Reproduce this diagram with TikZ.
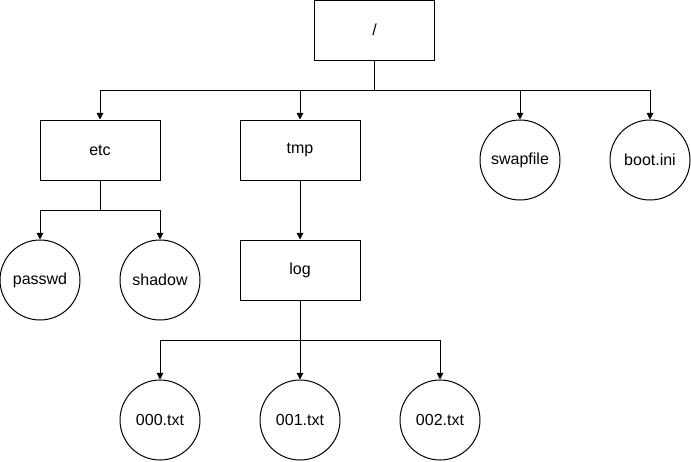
\documentclass[tikz,border=0pt]{standalone}
\usepackage{fontspec}
\setmainfont{Liberation Sans}
\usetikzlibrary{arrows.meta}

\begin{document}
\begin{tikzpicture}[x=0.75pt,y=-0.75pt,line width=0.75pt,font=\fontsize{12}{14}\selectfont]
\tikzset{dirbox/.style=
            {draw,minimum width=90pt,minimum height=45pt,inner sep=0pt},
         filecircle/.style=
            {draw,circle,minimum size=60pt,inner sep=0pt},
         link/.style=
            {draw,-{Triangle[length=5pt,width=5pt]}}}
\useasboundingbox (0,0) rectangle (691,461);
% directories
\node[dirbox] (root) at (374.5,30) {/};
\node[dirbox] (etc) at (100,150) {etc};
\node[dirbox] (tmp) at (300,150) {tmp};
\node[dirbox] (log) at (300,270) {log};
% files
\node[filecircle] (swapfile) at (520,160) {swapfile};
\node[filecircle] (bootini) at (650,160) {boot.ini};
\node[filecircle] (passwd) at (40,280) {passwd};
\node[filecircle] (shadow) at (160,280) {shadow};
\node[filecircle] (txtA) at (160,420) {000.txt};
\node[filecircle] (txtB) at (300,420) {001.txt};
\node[filecircle] (txtC) at (440,420) {002.txt};
% forks
\coordinate (rootfork) at (374.5,90);
\coordinate (etcfork) at (100,210);
\coordinate (logfork) at (300,340);
\draw (root.south) -- (rootfork);
\draw[link] (rootfork) -| (etc.north);
\draw[link] (rootfork) -| (tmp.north);
\draw[link] (rootfork) -| (swapfile.north);
\draw[link] (rootfork) -| (bootini.north);
\draw (etc.south) -- (etcfork);
\draw[link] (etcfork) -| (passwd.north);
\draw[link] (etcfork) -| (shadow.north);
\draw[link] (tmp.south) -- (log.north);
\draw (log.south) -- (logfork);
\draw[link] (logfork) -| (txtA.north);
\draw[link] (logfork) -- (txtB.north);
\draw[link] (logfork) -| (txtC.north);
\end{tikzpicture}
\end{document}
